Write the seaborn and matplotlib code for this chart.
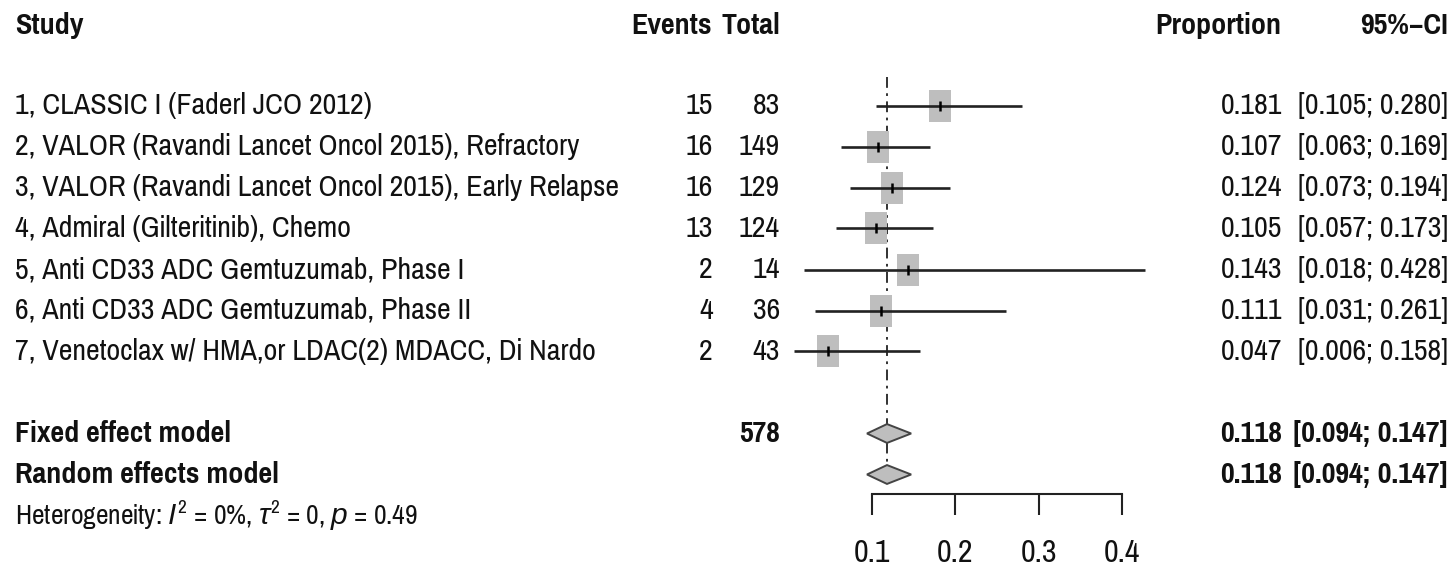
import numpy as np
import pandas as pd
import matplotlib
matplotlib.use("Agg")
import matplotlib.pyplot as plt
import matplotlib.transforms as mtransforms
from matplotlib.path import Path
import seaborn as sns

# ---- data -------------------------------------------------------------
studies = [
    "1, CLASSIC I (Faderl JCO 2012)",
    "2, VALOR (Ravandi Lancet Oncol 2015), Refractory",
    "3, VALOR (Ravandi Lancet Oncol 2015), Early Relapse",
    "4, Admiral (Gilteritinib), Chemo",
    "5, Anti CD33 ADC Gemtuzumab, Phase I",
    "6, Anti CD33 ADC Gemtuzumab, Phase II",
    "7, Venetoclax w/ HMA,or LDAC(2) MDACC, Di Nardo",
]
events = [15, 16, 16, 13, 2, 4, 2]
totals = [83, 149, 129, 124, 14, 36, 43]
proportion = [0.181, 0.107, 0.124, 0.105, 0.143, 0.111, 0.047]
ci_low = [0.105, 0.063, 0.073, 0.057, 0.018, 0.031, 0.006]
ci_high = [0.280, 0.169, 0.194, 0.173, 0.428, 0.261, 0.158]

model_labels = ["Fixed effect model", "Random effects model"]
model_est = [0.118, 0.118]
model_low = [0.094, 0.094]
model_high = [0.147, 0.147]
total_n = 578

x_ticks = [0.1, 0.2, 0.3, 0.4]
x_tick_labels = ["0.1", "0.2", "0.3", "0.4"]
heterogeneity = r"Heterogeneity: $I^2$ = 0%, $\tau^2$ = 0, $p$ = 0.49"

# ---- style ------------------------------------------------------------
sns.set_style("white")
FONT = ["Pragati Narrow", "Liberation Sans", "DejaVu Sans"]
plt.rcParams["font.family"] = FONT
plt.rcParams["mathtext.fontset"] = "custom"
plt.rcParams["mathtext.rm"] = "Pragati Narrow"
plt.rcParams["mathtext.it"] = "Liberation Sans:italic"
plt.rcParams["mathtext.fallback"] = "stixsans"

W, H = 1452, 572
fig = plt.figure(figsize=(W / 100, H / 100), dpi=100)
ax = fig.add_axes([0, 0, 1, 1])

# horizontal scale: 0.1 -> 872 px, 0.4 -> 1122 px
ppu = 250 / 0.3
ax.set_xlim(0.1 - 872 / ppu, 0.1 + (W - 872) / ppu)
# vertical scale: one row = 41 px, first study at 105.5 px from top
row_h, row0 = 41.0, 105.5
ax.set_ylim((H - row0) / row_h, -row0 / row_h)

df = pd.DataFrame({
    "study": studies, "events": events, "total": totals,
    "est": proportion, "low": ci_low, "high": ci_high,
})
df["row"] = np.arange(len(df))
model_rows = [len(df) + 1, len(df) + 2]

ink = "#222222"
box_grey = "#bebebe"

# study squares (all drawn at the same size)
box = Path([(-0.365, -0.5), (0.365, -0.5), (0.365, 0.5), (-0.365, 0.5), (-0.365, -0.5)],
           [Path.MOVETO, Path.LINETO, Path.LINETO, Path.LINETO, Path.CLOSEPOLY])
sns.scatterplot(data=df, x="est", y="row", marker=box, s=500, color=box_grey,
                linewidth=0, ax=ax, zorder=2, legend=False)
# confidence intervals
ax.hlines(df["row"], df["low"], df["high"], color=ink, lw=1.9, zorder=3)
# point estimate ticks
sns.scatterplot(data=df, x="est", y="row", marker="|", s=55, color="black",
                linewidth=1.8, ax=ax, zorder=4, legend=False)

# pooled estimate reference line
ax.vlines(model_est[0], -0.69, 9.2, colors=ink, lw=1.3,
          linestyles=[(0, (6, 3, 1.5, 3))], zorder=1)

# summary diamonds
dh = 0.23
for r, e, lo, hi in zip(model_rows, model_est, model_low, model_high):
    ax.fill([lo, e, hi, e], [r, r - dh, r, r + dh], facecolor=box_grey,
            edgecolor="#444444", lw=1.4, zorder=3)

# x axis bracket
for s in ["top", "left", "right"]:
    ax.spines[s].set_visible(False)
ax.spines["bottom"].set_position(("data", 9.48))
ax.spines["bottom"].set_bounds(x_ticks[0], x_ticks[-1])
ax.spines["bottom"].set_linewidth(1.5)
ax.spines["bottom"].set_color(ink)
ax.set_xticks(x_ticks)
ax.set_xticklabels(x_tick_labels)
ax.tick_params(axis="x", direction="out", length=15, width=1.5, color=ink,
               labelsize=25, pad=17, labelcolor="#111111", bottom=True)
ax.set_yticks([])
ax.set_xlabel("")
ax.set_ylabel("")

# text columns (x in figure pixels, y in rows)
tr = mtransforms.blended_transform_factory(fig.transFigure, ax.transData)
BODY = 23.5
def put(px, row, s, ha="left", bold=False, size=BODY):
    ax.text(px / W, row, s, transform=tr, ha=ha, va="center", fontsize=size,
            fontweight="bold" if bold else "normal", color="#111111")

head = -1.95
put(15, head, "Study", bold=True)
put(712, head, "Events", ha="right", bold=True)
put(780, head, "Total", ha="right", bold=True)
put(1281, head, "Proportion", ha="right", bold=True)
put(1448, head, "95%\u2212CI", ha="right", bold=True)

for _, d in df.iterrows():
    put(15, d["row"], d["study"])
    put(713, d["row"], f"{d['events']:d}", ha="right")
    put(780, d["row"], f"{d['total']:d}", ha="right")
    put(1282, d["row"], f"{d['est']:.3f}", ha="right")
    put(1448, d["row"], f"[{d['low']:.3f}; {d['high']:.3f}]", ha="right")

for i, (r, lab) in enumerate(zip(model_rows, model_labels)):
    put(15, r, lab, bold=True)
    if i == 0:
        put(780, r, f"{total_n}", ha="right", bold=True)
    put(1282, r, f"{model_est[i]:.3f}", ha="right", bold=True)
    put(1448, r, f"[{model_low[i]:.3f}; {model_high[i]:.3f}]", ha="right", bold=True)

put(15, model_rows[-1] + 1.0, heterogeneity, size=21.5)

fig.savefig("out.png", dpi=100)
